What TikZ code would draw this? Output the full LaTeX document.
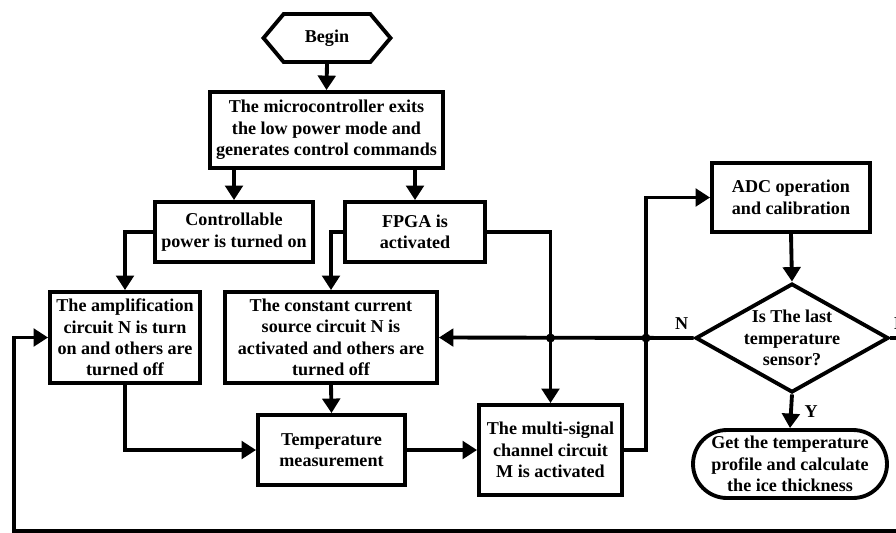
\documentclass[tikz,border=0pt]{standalone}
\usepackage{fontspec}
\setmainfont{Liberation Serif}
\usetikzlibrary{arrows.meta,positioning,shapes.geometric,shapes.symbols}
\definecolor{Ink}{HTML}{000000}
\definecolor{Canvas}{HTML}{FFFFFF}

\begin{document}
\begin{tikzpicture}[x=0.02cm,y=-0.02cm,font=\fontsize{10.3}{12.2}\selectfont\bfseries,box/.style={draw=Ink,line width=2.2pt,align=center,inner sep=1pt,text=Ink},decision/.style={draw=Ink,line width=2.2pt,diamond,inner sep=0pt,text=Ink},flow/.style={draw=Ink,line width=2.2pt,-{Triangle[length=0.29cm,width=0.35cm]}},tag/.style={text=Ink,inner sep=1pt}]
\useasboundingbox (0,0) rectangle (896,532);
\clip (0,0) rectangle (896,532);
\fill[Canvas] (0,0) rectangle (896,532);
% left column
\node[box, signal, signal to=west and east, signal pointer angle=100, minimum width=2.54cm, minimum height=0.96cm] (begin) at (327,38) {Begin};
\node[box, minimum width=4.66cm, minimum height=1.52cm] (micro) at (326.5,130) {The microcontroller exits\\the low power mode and\\generates control commands};
\node[box, minimum width=3.16cm, minimum height=1.2cm] (ctrl) at (234,232) {Controllable\\power is turned on};
\node[box, minimum width=2.8cm, minimum height=1.2cm] (fpga) at (415,232) {FPGA is\\activated};
\node[box, minimum width=3cm, minimum height=1.82cm] (amp) at (125,337.5) {The amplification\\circuit N is turn\\on and others are\\turned off};
\node[box, minimum width=4.24cm, minimum height=1.82cm] (const) at (331,337.5) {The constant current\\source circuit N is\\activated and others are\\turned off};
\node[box, minimum width=2.94cm, minimum height=1.4cm] (temp) at (331.5,450) {Temperature\\measurement};
\node[box, minimum width=2.86cm, minimum height=1.8cm] (multi) at (550.5,450) {The multi-signal\\channel circuit\\M is activated};
% right column
\node[box, minimum width=3.16cm, minimum height=1.38cm] (adc) at (791,197.5) {ADC operation\\and calibration};
\node[decision, minimum width=3.86cm, minimum height=2.18cm] (last) at (792,338) {\smash{\raisebox{-3.6pt}{\begin{tabular}[c]{@{}c@{}}Is The last\\temperature\\sensor?\end{tabular}}}};
\node[box, rounded corners=0.68cm, minimum width=3.88cm, minimum height=1.36cm, inner sep=0pt] (ice) at (790,464) {Get the temperature\\profile and calculate\\the ice thickness};
\coordinate (bus) at (646,338);
\coordinate (cross) at (multi.north |- last.west);
\coordinate (loopR) at (912,531);
\coordinate (loopL) at (14,531);
% connectors
\draw[flow] (begin.south) -- (micro.north);
\draw[flow] (ctrl.north |- micro.south) -- (ctrl.north);
\draw[flow] (fpga.north |- micro.south) -- (fpga.north);
\draw[flow] (ctrl.west) -| (amp.north);
\draw[flow] (fpga.west) -| (const.north);
\draw[flow] (fpga.east) -| (multi.north);
\draw[flow] (const.south) -- (temp.north);
\draw[flow] (amp.south) |- (temp.west);
\draw[flow] (temp) -- (multi);
\draw[flow] (multi.east) -| (bus) |- (adc.west);
\draw[flow] (adc.south) -- (last.north);
\draw[flow] (last.west) node[tag, above left=3pt and 1pt] (no) {N} -- (const.east);
\draw[flow] (last.south) -- node[tag, right=0.2cm] (yes) {Y} (ice.north);
\draw[flow] (last.east) node[tag, above right=3pt and 0pt] (again) {N} -| (loopR) -- (loopL) |- (amp.west);
\foreach \p in {bus,cross} {\fill[Ink] (\p) circle (4.5);}
\end{tikzpicture}
\end{document}
